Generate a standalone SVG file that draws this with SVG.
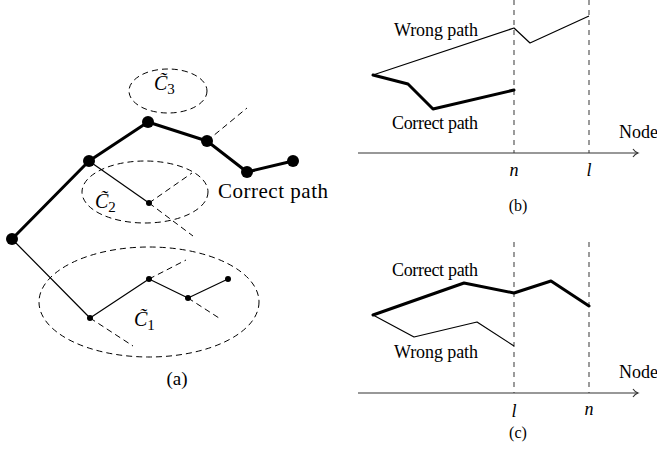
<svg xmlns="http://www.w3.org/2000/svg" width="657" height="457" viewBox="0 0 657 457">
<style>
text{font-family:"Liberation Serif","Times New Roman",serif;fill:#000}
.thick{stroke:#000;stroke-width:3;fill:none;stroke-linejoin:round;stroke-linecap:round}
.thin{stroke:#000;stroke-width:1.2;fill:none;stroke-linejoin:round}
.dash{stroke:#000;stroke-width:1;fill:none;stroke-dasharray:6,4}
.vdash{stroke:#666;stroke-width:1.3;fill:none;stroke-dasharray:5,5}
.axis{stroke:#333;stroke-width:1.2;fill:none}
.big{fill:#000}
.lbl{font-size:20px;font-style:italic}
.sub{font-size:15px;font-style:normal}
.m{font-style:italic}
.t{font-size:18px}
</style>
<defs>
<marker id="arr" markerWidth="10" markerHeight="10" refX="8" refY="5" orient="auto" markerUnits="userSpaceOnUse">
<path d="M3,1 Q5,4 8,5 Q5,6 3,9" fill="none" stroke="#333" stroke-width="1.1"/>
</marker>
</defs>

<!-- (a) tree -->
<g id="clusters">
<ellipse cx="168" cy="91" rx="39" ry="22" class="dash"/>
<ellipse cx="145" cy="192" rx="63" ry="31" class="dash"/>
<ellipse cx="149" cy="302" rx="110" ry="55" class="dash"/>
</g>
<g id="connectors">
<polyline points="12,239 89,161 148,122 207,141 247,172 293,161" class="thick"/>
<line x1="89" y1="161" x2="149" y2="203" class="thin"/>
<polyline points="12,239 90,318 149,279 188,298 228,279" class="thin"/>
<line x1="207" y1="141" x2="247" y2="108" class="dash"/>
<line x1="149" y1="203" x2="192" y2="173" class="dash"/>
<line x1="149" y1="203" x2="193" y2="236" class="dash"/>
<line x1="90" y1="318" x2="133" y2="346" class="dash"/>
<line x1="149" y1="279" x2="186" y2="260" class="dash"/>
<line x1="188" y1="298" x2="219" y2="318" class="dash"/>
</g>
<g id="n-root"><circle cx="12" cy="239" r="6" class="big"/></g>
<g id="n-e"><circle cx="89" cy="161" r="6" class="big"/></g>
<g id="n-a"><circle cx="148" cy="122" r="6" class="big"/></g>
<g id="n-b"><circle cx="207" cy="141" r="6" class="big"/></g>
<g id="n-c"><circle cx="247" cy="172" r="6" class="big"/></g>
<g id="n-d"><circle cx="293" cy="161" r="6" class="big"/></g>
<g id="n-f"><circle cx="149" cy="203" r="3" class="big"/></g>
<g id="n-g"><circle cx="90" cy="318" r="3" class="big"/></g>
<g id="n-h"><circle cx="149" cy="279" r="3" class="big"/></g>
<g id="n-i"><circle cx="188" cy="298" r="3" class="big"/></g>
<g id="n-j"><circle cx="228" cy="279" r="3" class="big"/></g>

<g id="labels-a">
<text x="154" y="90" class="lbl">C&#x303;<tspan class="sub" dy="4">3</tspan></text>
<text x="95" y="208" class="lbl">C&#x303;<tspan class="sub" dy="4">2</tspan></text>
<text x="134" y="326" class="lbl">C&#x303;<tspan class="sub" dy="4">1</tspan></text>
<text x="218" y="198" font-size="21" textLength="110">Correct path</text>
<text x="177" y="385" font-size="19" text-anchor="middle">(a)</text>
</g>

<!-- (b) -->
<g id="plot-b">
<line x1="514" y1="0" x2="514" y2="153" class="vdash"/>
<line x1="589" y1="0" x2="589" y2="153" class="vdash"/>
<line x1="358" y1="153" x2="638" y2="153" class="axis" marker-end="url(#arr)"/>
<polyline points="373,75 514,28 530,43 589,16" class="thin" stroke-width="1"/>
<polyline points="373,75 408,84 433,109 514,90" class="thick"/>
<text x="394" y="36" class="t" textLength="84">Wrong path</text>
<text x="392" y="129" class="t" textLength="86">Correct path</text>
<text x="619" y="138" class="t">Node</text>
<text x="514" y="176" font-size="18" class="m" text-anchor="middle">n</text>
<text x="589" y="176" font-size="18" class="m" text-anchor="middle">l</text>
<text x="518" y="211" font-size="16" text-anchor="middle">(b)</text>
</g>

<!-- (c) -->
<g id="plot-c">
<line x1="514" y1="242" x2="514" y2="393" class="vdash"/>
<line x1="589" y1="242" x2="589" y2="393" class="vdash"/>
<line x1="358" y1="393" x2="638" y2="393" class="axis" marker-end="url(#arr)"/>
<polyline points="373,315 464,283 514,293 551,281 589,306" class="thick"/>
<polyline points="373,315 414,337 477,322 514,346" class="thin" stroke-width="1"/>
<text x="392" y="276" class="t" textLength="86">Correct path</text>
<text x="394" y="358" class="t" textLength="84">Wrong path</text>
<text x="619" y="378" class="t">Node</text>
<text x="514" y="417" font-size="18" class="m" text-anchor="middle">l</text>
<text x="589" y="415" font-size="18" class="m" text-anchor="middle">n</text>
<text x="518" y="438" font-size="16" text-anchor="middle">(c)</text>
</g>
</svg>
